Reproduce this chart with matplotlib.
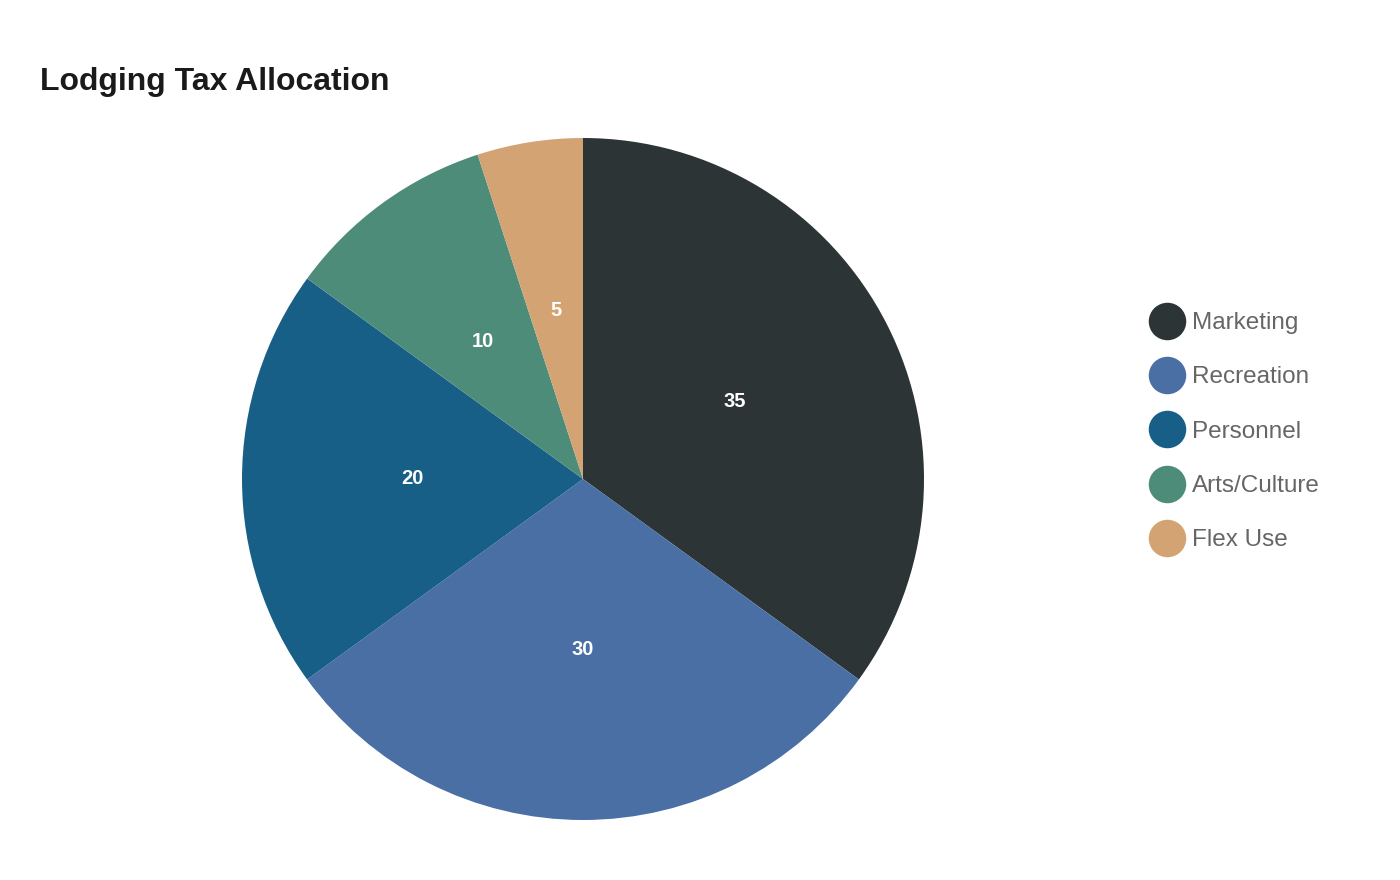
import numpy as np
import matplotlib.pyplot as plt
from matplotlib.lines import Line2D

categories = ['Marketing', 'Recreation', 'Personnel', 'Arts/Culture', 'Flex Use']
values = [35, 30, 20, 10, 5]
colors = ['#2d3436', '#4a6fa5', '#185f87', '#4e8c7a', '#d4a373']

plt.rcParams['font.family'] = ['Liberation Sans', 'DejaVu Sans']

fig = plt.figure(figsize=(14, 8.8), dpi=100)

# pie centred at about (583, 479) px, radius 341 px
ax = fig.add_axes([242 / 1400, 60 / 880, 682 / 1400, 682 / 880])
wedges, texts = ax.pie(values, colors=colors, startangle=90, counterclock=False,
                       wedgeprops=dict(linewidth=0))
for w, v in zip(wedges, values):
    ang = np.deg2rad((w.theta1 + w.theta2) / 2)
    ax.text(0.5 * np.cos(ang), 0.5 * np.sin(ang), str(v), ha='center', va='center',
            color='white', fontsize=14.5, fontweight='bold')
ax.set_xlim(-1, 1)
ax.set_ylim(-1, 1)
ax.set_aspect('equal')
ax.axis('off')

fig.text(40 / 1400, 1 - 82 / 880, 'Lodging Tax Allocation', fontsize=23, fontweight='bold',
         color='#1a1a1a', ha='left', va='center')

handles = [Line2D([], [], marker='o', linestyle='none', markersize=27,
                  markerfacecolor=c, markeredgewidth=0) for c in colors]
leg = fig.legend(handles, categories, loc='upper left', bbox_to_anchor=(1148 / 1400, 1 - 312 / 880),
                 frameon=False, fontsize=17.5, labelspacing=1.33, handletextpad=0.25,
                 handlelength=1.56, borderpad=0, borderaxespad=0)
for t in leg.get_texts():
    t.set_color('#666666')

fig.savefig('out.png', dpi=100)
